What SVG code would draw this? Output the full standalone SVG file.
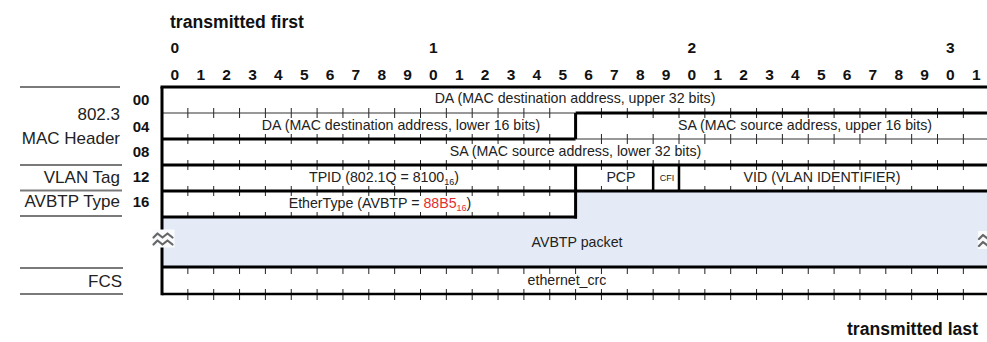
<svg xmlns="http://www.w3.org/2000/svg" width="987" height="342" viewBox="0 0 987 342">
<style>
  text { font-family: "Liberation Sans", Arial, sans-serif; }
  .hdr { font-weight: bold; font-size: 17.6px; fill: #111; }
  .dig { font-weight: bold; font-size: 15.5px; fill: #111; text-anchor: middle; }
  .lbl { font-size: 17px; fill: #222; text-anchor: end; }
  .rn { font-weight: bold; font-size: 15px; fill: #111; text-anchor: middle; }
  .cell { font-size: 14.2px; fill: #222; text-anchor: middle; }
  .sub { font-size: 9px; }
  .red { fill: #e23030; }
  .thick { stroke: #000; stroke-width: 3; fill: none; }
  .mid { stroke: #000; stroke-width: 2.5; fill: none; }
  .thin { stroke: #333; stroke-width: 1.2; fill: none; }
  .tick { stroke: #222; stroke-width: 1; fill: none; }
  .side { stroke: #7a7a7a; stroke-width: 2; fill: none; }
  .brk { stroke: #666; stroke-width: 2.2; fill: none; stroke-linecap: round; stroke-linejoin: round; }
</style>
<defs>
  <g id="breaksym">
    <rect x="-11" y="-9" width="22" height="18" fill="#fafbfd"/>
    <path class="brk" d="M-10 -1 l4 -4 l5 4 l5 -4 l5 4"/>
    <path class="brk" d="M-10 6 l4 -4 l5 4 l5 -4 l5 4"/>
  </g>
</defs>
<rect width="987" height="342" fill="#fff"/>

<g id="header">
  <text class="hdr" x="170" y="28">transmitted first</text>
  <text class="dig" x="174.9" y="53">0</text>
  <text class="dig" x="433.4" y="53">1</text>
  <text class="dig" x="691.9" y="53">2</text>
  <text class="dig" x="950.4" y="53">3</text>
  <g id="bit-numbers">
    <text class="dig" x="174.9" y="80">0</text><text class="dig" x="200.8" y="80">1</text><text class="dig" x="226.6" y="80">2</text><text class="dig" x="252.5" y="80">3</text><text class="dig" x="278.3" y="80">4</text><text class="dig" x="304.2" y="80">5</text><text class="dig" x="330.0" y="80">6</text><text class="dig" x="355.9" y="80">7</text><text class="dig" x="381.7" y="80">8</text><text class="dig" x="407.6" y="80">9</text>
    <text class="dig" x="433.4" y="80">0</text><text class="dig" x="459.3" y="80">1</text><text class="dig" x="485.1" y="80">2</text><text class="dig" x="511.0" y="80">3</text><text class="dig" x="536.8" y="80">4</text><text class="dig" x="562.7" y="80">5</text><text class="dig" x="588.5" y="80">6</text><text class="dig" x="614.4" y="80">7</text><text class="dig" x="640.2" y="80">8</text><text class="dig" x="666.1" y="80">9</text>
    <text class="dig" x="691.9" y="80">0</text><text class="dig" x="717.8" y="80">1</text><text class="dig" x="743.6" y="80">2</text><text class="dig" x="769.5" y="80">3</text><text class="dig" x="795.3" y="80">4</text><text class="dig" x="821.2" y="80">5</text><text class="dig" x="847.0" y="80">6</text><text class="dig" x="872.9" y="80">7</text><text class="dig" x="898.7" y="80">8</text><text class="dig" x="924.6" y="80">9</text>
    <text class="dig" x="950.4" y="80">0</text><text class="dig" x="976.3" y="80">1</text>
  </g>
  <text class="hdr" x="978" y="335" text-anchor="end">transmitted last</text>
</g>

<g id="side-labels">
  <path class="side" d="M20 87H120M20 165H122M20 190.5H122M20 216H122M20 268H123M20 294H123"/>
  <text class="lbl" x="120" y="120">802.3</text>
  <text class="lbl" x="120" y="144">MAC Header</text>
  <text class="lbl" x="120" y="183">VLAN Tag</text>
  <text class="lbl" x="120" y="207">AVBTP Type</text>
  <text class="lbl" x="122" y="287">FCS</text>
  <text class="rn" x="141" y="105">00</text>
  <text class="rn" x="141" y="132">04</text>
  <text class="rn" x="141" y="157">08</text>
  <text class="rn" x="141" y="182">12</text>
  <text class="rn" x="141" y="207">16</text>
</g>

<g id="avbtp-packet">
  <path d="M575.6 191H992V267H162V217H575.6Z" fill="#e5ebf6"/>
  <text class="cell" x="577" y="247">AVBTP packet</text>
</g>

<g id="ticks" class="tick">
  <path d="M187.85 108v10M213.7 108v10M239.55 108v10M265.4 108v10M291.25 108v10M317.1 108v10M342.95 108v10M368.8 108v10M394.65 108v10M420.5 108v10M446.35 108v10M472.2 108v10M498.05 108v10M523.9 108v10M549.75 108v10M601.45 108v10M627.3 108v10M653.15 108v10M679 108v10M704.85 108v10M730.7 108v10M756.55 108v10M782.4 108v10M808.25 108v10M834.1 108v10M859.95 108v10M885.8 108v10M911.65 108v10M937.5 108v10M963.35 108v10"/>
  <path d="M187.85 134v10M213.7 134v10M239.55 134v10M265.4 134v10M291.25 134v10M317.1 134v10M342.95 134v10M368.8 134v10M394.65 134v10M420.5 134v10M446.35 134v10M472.2 134v10M498.05 134v10M523.9 134v10M549.75 134v10M601.45 134v10M627.3 134v10M653.15 134v10M679 134v10M704.85 134v10M730.7 134v10M756.55 134v10M782.4 134v10M808.25 134v10M834.1 134v10M859.95 134v10M885.8 134v10M911.65 134v10M937.5 134v10M963.35 134v10"/>
  <path d="M187.85 160v10M213.7 160v10M239.55 160v10M265.4 160v10M291.25 160v10M317.1 160v10M342.95 160v10M368.8 160v10M394.65 160v10M420.5 160v10M446.35 160v10M472.2 160v10M498.05 160v10M523.9 160v10M549.75 160v10M601.45 160v10M627.3 160v10M653.15 160v10M679 160v10M704.85 160v10M730.7 160v10M756.55 160v10M782.4 160v10M808.25 160v10M834.1 160v10M859.95 160v10M885.8 160v10M911.65 160v10M937.5 160v10M963.35 160v10"/>
  <path d="M187.85 186v10M213.7 186v10M239.55 186v10M265.4 186v10M291.25 186v10M317.1 186v10M342.95 186v10M368.8 186v10M394.65 186v10M420.5 186v10M446.35 186v10M472.2 186v10M498.05 186v10M523.9 186v10M549.75 186v10M601.45 186v5M627.3 186v5M704.85 186v5M730.7 186v5M756.55 186v5M782.4 186v5M808.25 186v5M834.1 186v5M859.95 186v5M885.8 186v5M911.65 186v5M937.5 186v5M963.35 186v5"/>
  <path d="M187.85 212v5M213.7 212v5M239.55 212v5M265.4 212v5M291.25 212v5M317.1 212v5M342.95 212v5M368.8 212v5M394.65 212v5M420.5 212v5M446.35 212v5M472.2 212v5M498.05 212v5M523.9 212v5M549.75 212v5"/>
  <path d="M187.85 267v7M213.7 267v7M239.55 267v7M265.4 267v7M291.25 267v7M317.1 267v7M342.95 267v7M368.8 267v7M394.65 267v7M420.5 267v7M446.35 267v7M472.2 267v7M498.05 267v7M523.9 267v7M549.75 267v7M575.6 267v7M601.45 267v7M627.3 267v7M653.15 267v7M679 267v7M704.85 267v7M730.7 267v7M756.55 267v7M782.4 267v7M808.25 267v7M834.1 267v7M859.95 267v7M885.8 267v7M911.65 267v7M937.5 267v7M963.35 267v7"/>
  <path d="M187.85 289v11M213.7 289v11M239.55 289v11M265.4 289v11M291.25 289v11M317.1 289v11M342.95 289v11M368.8 289v11M394.65 289v11M420.5 289v11M446.35 289v11M472.2 289v11M498.05 289v11M523.9 289v11M549.75 289v11M575.6 289v11M601.45 289v11M627.3 289v11M653.15 289v11M679 289v11M704.85 289v11M730.7 289v11M756.55 289v11M782.4 289v11M808.25 289v11M834.1 289v11M859.95 289v11M885.8 289v11M911.65 289v11M937.5 289v11M963.35 289v11"/>
</g>

<g id="grid-lines">
  <path class="thin" d="M162 113H575.6M575.6 139H992"/>
  <path class="thick" d="M160.5 87H992M575.6 113H992M162 139H575.6M162 165H992M162 191H992M162 217H577M162 267H992"/>
  <path class="mid" d="M162 294H992"/>
  <path class="thick" d="M162 87V230M162 247V295.2"/>
  <path class="thick" d="M575.6 113V139M575.6 165V218.5"/>
  <path class="mid" d="M653.15 165V191M679 165V191"/>
</g>

<g id="fields">
  <text class="cell" x="575" y="103">DA (MAC destination address, upper 32 bits)</text>
  <text class="cell" x="401" y="130">DA (MAC destination address, lower 16 bits)</text>
  <text class="cell" x="805" y="130">SA (MAC source address, upper 16 bits)</text>
  <text class="cell" x="575.5" y="156">SA (MAC source address, lower 32 bits)</text>
  <text class="cell" x="384" y="182">TPID (802.1Q = 8100<tspan class="sub" dy="3">16</tspan><tspan dy="-3">)</tspan></text>
  <text class="cell" x="621" y="182">PCP</text>
  <text class="cell" x="667" y="181" style="font-size:9px">CFI</text>
  <text class="cell" x="822" y="182">VID (VLAN IDENTIFIER)</text>
  <text class="cell" x="380" y="208">EtherType (AVBTP = <tspan class="red">88B5</tspan><tspan class="sub red" dy="3">16</tspan><tspan dy="-3">)</tspan></text>
  <text class="cell" x="567" y="285">ethernet_crc</text>
</g>

<g id="breaks">
  <use href="#breaksym" x="163.5" y="238.5"/>
  <use href="#breaksym" x="989" y="240"/>
</g>
</svg>
